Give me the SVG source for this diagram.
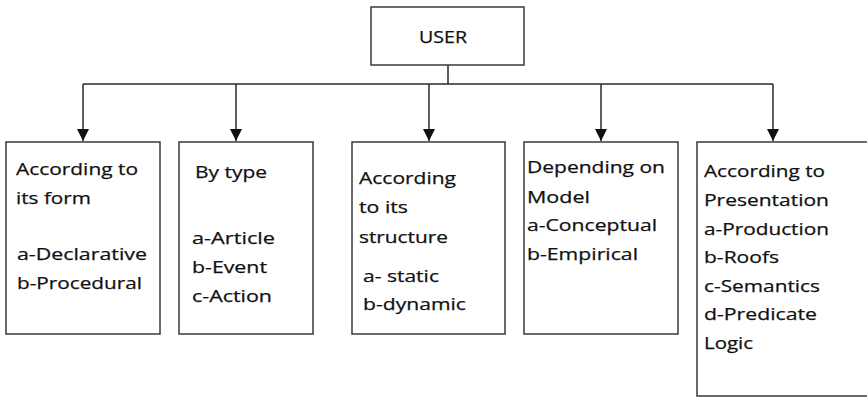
<svg xmlns="http://www.w3.org/2000/svg" width="867" height="397" viewBox="0 0 867 397">
<style>
.box{fill:#fff;stroke:#3a3a3a;stroke-width:1.5}
.conn{fill:none;stroke:#2a2a2a;stroke-width:1.5}
text{font-family:"Open Sans","Noto Sans",sans-serif;font-size:17px;fill:#111;stroke:#111;stroke-width:0.25}
</style>
<defs>
<marker id="arr" viewBox="0 0 12 12" refX="12" refY="6" markerWidth="12" markerHeight="12" markerUnits="userSpaceOnUse" orient="auto">
<path d="M0,0 L12,6 L0,12 z" fill="#111"/>
</marker>
</defs>
<rect width="867" height="397" fill="#fff"/>
<g id="connectors">
<path class="conn" d="M448,65 V84 M83,84 H773"/>
<path class="conn" d="M83,84 V141" marker-end="url(#arr)"/>
<path class="conn" d="M236,84 V141" marker-end="url(#arr)"/>
<path class="conn" d="M429,84 V141" marker-end="url(#arr)"/>
<path class="conn" d="M601,84 V141" marker-end="url(#arr)"/>
<path class="conn" d="M773,84 V141" marker-end="url(#arr)"/>
</g>
<g id="user">
<rect class="box" x="371" y="7" width="153" height="58"/>
<text x="419" y="43" textLength="48" lengthAdjust="spacingAndGlyphs">USER</text>
</g>
<g id="form">
<rect class="box" x="6" y="142" width="154" height="192"/>
<text x="16" y="175" textLength="122" lengthAdjust="spacingAndGlyphs">According to</text>
<text x="16" y="204" textLength="75" lengthAdjust="spacingAndGlyphs">its form</text>
<text x="17" y="260" textLength="130" lengthAdjust="spacingAndGlyphs">a-Declarative</text>
<text x="17" y="289" textLength="125" lengthAdjust="spacingAndGlyphs">b-Procedural</text>
</g>
<g id="type">
<rect class="box" x="179" y="142" width="134" height="192"/>
<text x="195" y="178" textLength="72" lengthAdjust="spacingAndGlyphs">By type</text>
<text x="192" y="244" textLength="83" lengthAdjust="spacingAndGlyphs">a-Article</text>
<text x="192" y="273" textLength="75" lengthAdjust="spacingAndGlyphs">b-Event</text>
<text x="192" y="302" textLength="80" lengthAdjust="spacingAndGlyphs">c-Action</text>
</g>
<g id="structure">
<rect class="box" x="352" y="142" width="153" height="192"/>
<text x="359" y="184" textLength="97" lengthAdjust="spacingAndGlyphs">According</text>
<text x="359" y="213" textLength="49" lengthAdjust="spacingAndGlyphs">to its</text>
<text x="359" y="243" textLength="89" lengthAdjust="spacingAndGlyphs">structure</text>
<text x="363" y="282" textLength="76" lengthAdjust="spacingAndGlyphs">a- static</text>
<text x="363" y="310" textLength="103" lengthAdjust="spacingAndGlyphs">b-dynamic</text>
</g>
<g id="model">
<rect class="box" x="524" y="142" width="154" height="192"/>
<text x="527" y="173" textLength="138" lengthAdjust="spacingAndGlyphs">Depending on</text>
<text x="527" y="203" textLength="63" lengthAdjust="spacingAndGlyphs">Model</text>
<text x="527" y="231" textLength="130" lengthAdjust="spacingAndGlyphs">a-Conceptual</text>
<text x="527" y="260" textLength="111" lengthAdjust="spacingAndGlyphs">b-Empirical</text>
</g>
<g id="presentation">
<rect class="box" x="697" y="142" width="200" height="254"/>
<text x="704" y="177" textLength="121" lengthAdjust="spacingAndGlyphs">According to</text>
<text x="704" y="206" textLength="125" lengthAdjust="spacingAndGlyphs">Presentation</text>
<text x="704" y="235" textLength="125" lengthAdjust="spacingAndGlyphs">a-Production</text>
<text x="704" y="263" textLength="75" lengthAdjust="spacingAndGlyphs">b-Roofs</text>
<text x="704" y="292" textLength="116" lengthAdjust="spacingAndGlyphs">c-Semantics</text>
<text x="704" y="320" textLength="113" lengthAdjust="spacingAndGlyphs">d-Predicate</text>
<text x="704" y="349" textLength="49" lengthAdjust="spacingAndGlyphs">Logic</text>
</g>
</svg>
